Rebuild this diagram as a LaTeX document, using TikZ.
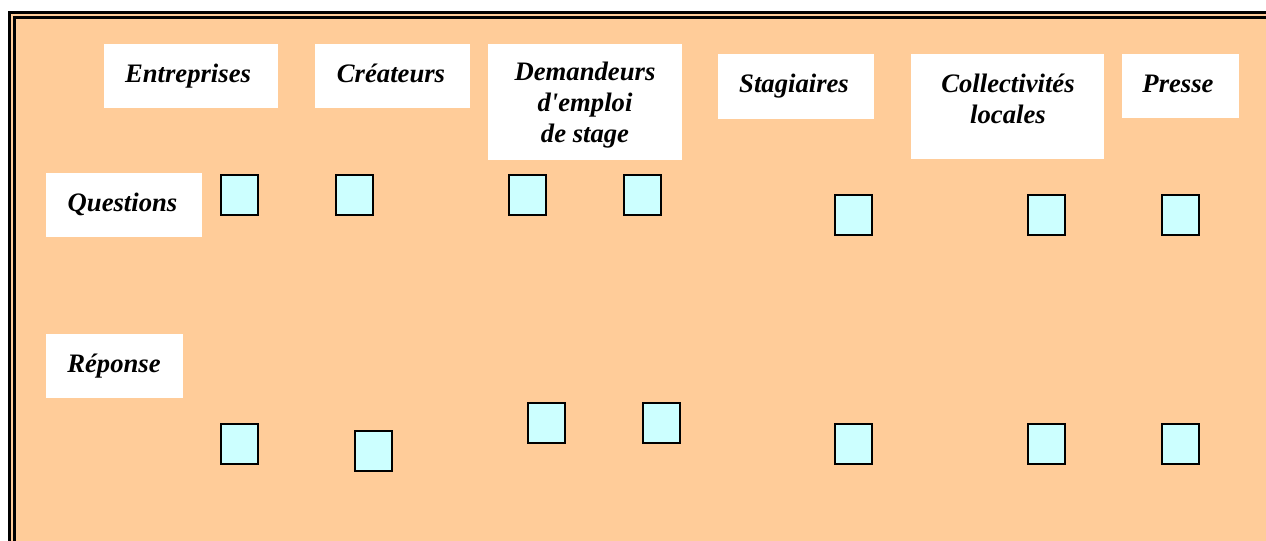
\documentclass[tikz,border=0pt]{standalone}
\usepackage{fontspec}
\setmainfont{Liberation Serif}
\definecolor{peach}{HTML}{FFCC99}
\definecolor{pale}{HTML}{CCFFFF}
\begin{document}
\begin{tikzpicture}[x=0.75pt,y=-0.75pt,
  wbox/.style={fill=white, draw=none, inner sep=0pt},
  sq/.style={fill=pale, draw=black, line width=1.5pt, inner sep=0pt, minimum width=37*0.75pt, minimum height=40*0.75pt},
  lbl/.style={font=\fontsize{20}{23.25}\selectfont\bfseries\itshape, inner sep=0pt, anchor=base, align=center},
  frameline/.style={draw=black, line width=2.1pt}]
\useasboundingbox (0,0) rectangle (1266,541);
\clip (0,0) rectangle (1266,541);
\fill[white] (0,0) rectangle (1266,541);
% frame
\coordinate (fo1) at (9.5,12.5);
\coordinate (fo2) at (1320,620);
\coordinate (fi1) at (14.5,17.5);
\coordinate (fi2) at (1315,615);
\fill[peach] (fo1) rectangle (fo2);
\draw[frameline] (fo1) rectangle (fo2);
\draw[frameline] (fi1) rectangle (fi2);
% header boxes
\node[wbox, minimum width=174*0.75pt, minimum height=64*0.75pt] (ent) at (191,76) {};
\node[wbox, minimum width=155*0.75pt, minimum height=64*0.75pt] (cre) at (392.5,76) {};
\node[wbox, minimum width=194*0.75pt, minimum height=116*0.75pt] (dem) at (585,102) {};
\node[wbox, minimum width=156*0.75pt, minimum height=65*0.75pt] (sta) at (796,86.5) {};
\node[wbox, minimum width=193*0.75pt, minimum height=105*0.75pt] (col) at (1007.5,106.5) {};
\node[wbox, minimum width=117*0.75pt, minimum height=64*0.75pt] (pre) at (1180.5,86) {};
\node[wbox, minimum width=156*0.75pt, minimum height=64*0.75pt] (que) at (124,205) {};
\node[wbox, minimum width=137*0.75pt, minimum height=64*0.75pt] (rep) at (114.5,366) {};
% labels (base anchor of a multi-line label = baseline of its last line)
\node[lbl] (tent) at (188,82.5) {Entreprises};
\node[lbl] (tcre) at (391,82.5) {Créateurs};
\node[lbl] (tdem) at (585,142.5) {Demandeurs\\d\textquotesingle emploi\\de stage};
\node[lbl] (tsta) at (794,93) {Stagiaires};
\node[lbl] (tcol) at (1008,124) {Collectivités\\locales};
\node[lbl] (tpre) at (1178,92.5) {Presse};
\node[lbl] (tque) at (122.5,212) {Questions};
\node[lbl] (trep) at (114,373) {Réponse};
% squares
\node[sq] (q1) at (239.5,195) {};
\node[sq] (q2) at (354.5,195) {};
\node[sq] (q3) at (527.5,195) {};
\node[sq] (q4) at (642.5,195) {};
\node[sq] (q5) at (853.5,215.5) {};
\node[sq] (q6) at (1046.5,215.5) {};
\node[sq] (q7) at (1180.5,215.5) {};
\node[sq] (r1) at (239.5,444) {};
\node[sq] (r2) at (373.5,451) {};
\node[sq] (r3) at (546.5,423) {};
\node[sq] (r4) at (661.5,423) {};
\node[sq] (r5) at (853.5,444) {};
\node[sq] (r6) at (1046.5,444) {};
\node[sq] (r7) at (1180.5,444) {};
\end{tikzpicture}
\end{document}
